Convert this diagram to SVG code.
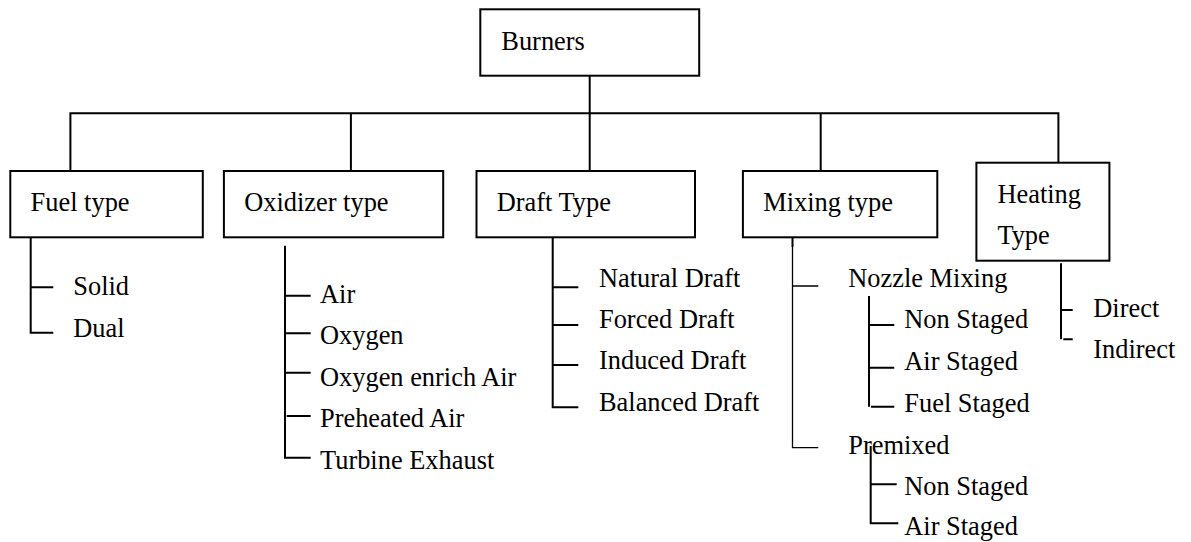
<svg xmlns="http://www.w3.org/2000/svg" width="1191" height="542" viewBox="0 0 1191 542">
<style>
.box{fill:#fff;stroke:#000;stroke-width:2}
.ln{fill:none;stroke:#000;stroke-width:2}
.thin{fill:none;stroke:#000;stroke-width:1.3}
</style>
<rect width="1191" height="542" fill="#fff"/>
<g id="connectors">
<path class="ln" d="M589.7 75.7V171M70.4 171V113.3H1058.4V162.7M350.9 113.3V171M820.7 113.3V171"/>
<path class="ln" d="M30.7 237.3V332.7H53.3M30.7 287.3H53.3"/>
<path class="ln" d="M285 245.7V457.7H310.7M285 295.7H310.7M285 333.3H310.7M285 372.7H310.7M286.7 416H310.7"/>
<path class="ln" d="M552.7 237.3V407.3H578.3M552.7 287.3H578.3M552.7 325H578.3M552.7 365H578.3"/>
<path class="ln" d="M792.5 237.3V247"/>
<path class="thin" d="M792.5 247V447.7H818.3M792.5 286H818.3"/>
<path class="ln" d="M869 296V406.7M871 406.7H894.3M869 325H894.3M869 367.7H894.3"/>
<path class="ln" d="M870.7 446V523.3H898.3M870.7 484.3H896.7"/>
<path class="ln" d="M1061 263.3V339.3M1061 310H1072.7M1063.3 339.3H1072.7"/>
</g>
<g font-family="Liberation Serif, Times New Roman, serif" font-size="26.4" fill="#000">
<g id="burners"><rect class="box" x="480.3" y="9.3" width="218.9" height="66.4"/><text x="501.3" y="50">Burners</text></g>
<g id="fuel-type"><rect class="box" x="10.3" y="171" width="192.5" height="66.3"/><text x="30.6" y="210.7">Fuel type</text></g>
<g id="oxidizer-type"><rect class="box" x="223.9" y="171" width="219.3" height="66.3"/><text x="244.2" y="210.7">Oxidizer type</text></g>
<g id="draft-type"><rect class="box" x="476.5" y="171" width="218.5" height="66.3"/><text x="496.7" y="210.7">Draft Type</text></g>
<g id="mixing-type"><rect class="box" x="742.9" y="171" width="194.4" height="66.3"/><text x="763.2" y="210.7">Mixing type</text></g>
<g id="heating-type"><rect class="box" x="976.4" y="162.7" width="133" height="98"/><text x="997.4" y="203.3">Heating</text><text x="997.4" y="244.3">Type</text></g>
<g id="fuel-items"><text x="73.3" y="295">Solid</text><text x="73.3" y="336.7">Dual</text></g>
<g id="oxidizer-items"><text x="320" y="302.7">Air</text><text x="320" y="344.3">Oxygen</text><text x="320" y="385.7">Oxygen enrich Air</text><text x="320" y="427.3">Preheated Air</text><text x="320" y="469.3">Turbine Exhaust</text></g>
<g id="draft-items"><text x="599" y="286.7">Natural Draft</text><text x="599" y="328.3">Forced Draft</text><text x="599" y="369.3">Induced Draft</text><text x="599" y="411">Balanced Draft</text></g>
<g id="nozzle-mixing"><text x="848.3" y="287.3">Nozzle Mixing</text><text x="904.3" y="328.3">Non Staged</text><text x="904.3" y="370">Air Staged</text><text x="904.3" y="411.7">Fuel Staged</text></g>
<g id="premixed"><text x="848.3" y="454">Premixed</text><text x="904.3" y="495">Non Staged</text><text x="904.3" y="535">Air Staged</text></g>
<g id="heating-items"><text x="1093.3" y="316.7">Direct</text><text x="1093.3" y="358.3">Indirect</text></g>
</g>
</svg>
